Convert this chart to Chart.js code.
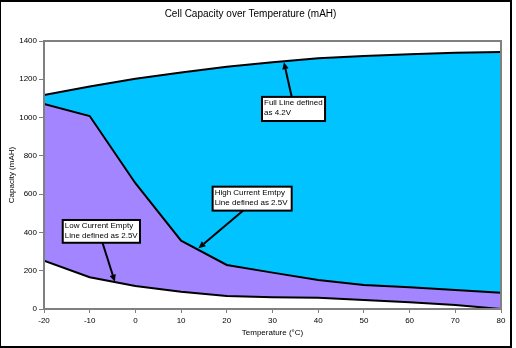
<!DOCTYPE html>
<html>
<head>
<meta charset="utf-8">
<script src="https://cdn.jsdelivr.net/npm/chart.js@4/dist/chart.umd.min.js"></script>
<style>
  html, body { margin: 0; padding: 0; background: #fff; }
  #wrap { position: relative; width: 516px; height: 348px; }
  #frame { position: absolute; left: 0; top: 0; width: 512px; height: 348px; box-sizing: border-box;
           border: 2px solid #000; border-left-width: 1px; pointer-events: none; }
  canvas { display: block; }
</style>
</head>
<body>
<div id="wrap">
  <canvas id="c" width="516" height="348"></canvas>
  <div id="frame"></div>
</div>
<script>
// ---- data ----
const temperatures = [-20, -10, 0, 10, 20, 30, 40, 50, 60, 70, 80];
const fullLine     = [1118, 1162, 1203, 1236, 1266, 1289, 1310, 1322, 1331, 1338, 1343];
const highCurrent  = [1071, 1008, 657, 357, 230, 190, 152, 125, 113, 99, 85];
const lowCurrent   = [252, 166, 120, 90, 68, 61, 59, 47, 35, 21, 0];
const yTicks = [0, 200, 400, 600, 800, 1000, 1200, 1400];
const xTicks = [-20, -10, 0, 10, 20, 30, 40, 50, 60, 70, 80];

// callouts, in data units (temperature, mAH)
const callouts = [
  { lines: ['Full Line defined', 'as 4.2V'],
    box: [27.7, 1108, 41.5, 982], from: [34.2, 1109], to: [32.5, 1289] },
  { lines: ['High Current Emtpy', 'Line defined as 2.5V'],
    box: [16.9, 639, 34.2, 514], from: [23.6, 514], to: [13.8, 317] },
  { lines: ['Low Current Empty', 'Line defined as 2.5V'],
    box: [-15.9, 465, 1.0, 346], from: [-7.2, 346], to: [-4.5, 143] }
];

const FONT = "'Liberation Sans', Arial, sans-serif";
const pts = arr => temperatures.map((t, i) => ({ x: t, y: arr[i] }));

const framePlugin = {
  id: 'frameAndCallouts',
  afterDatasetsDraw(chart) {
    const { ctx, chartArea: a, scales: { x, y } } = chart;
    ctx.save();
    ctx.strokeStyle = '#808080';
    ctx.lineWidth = 2;
    ctx.strokeRect(a.left, a.top, a.right - a.left, a.bottom - a.top);
    ctx.restore();

    ctx.save();
    ctx.font = '8px ' + FONT;
    ctx.textBaseline = 'middle';
    ctx.textAlign = 'left';
    callouts.forEach(c => {
      const x1 = x.getPixelForValue(c.box[0]), y1 = y.getPixelForValue(c.box[1]);
      const x2 = x.getPixelForValue(c.box[2]), y2 = y.getPixelForValue(c.box[3]);
      const fx = x.getPixelForValue(c.from[0]), fy = y.getPixelForValue(c.from[1]);
      const tx = x.getPixelForValue(c.to[0]), ty = y.getPixelForValue(c.to[1]);
      const ang = Math.atan2(ty - fy, tx - fx);
      const hl = 7, hw = 3.2;
      const bx = tx - hl * Math.cos(ang), by = ty - hl * Math.sin(ang);
      ctx.strokeStyle = '#000';
      ctx.lineWidth = 2;
      ctx.beginPath(); ctx.moveTo(fx, fy); ctx.lineTo(bx, by); ctx.stroke();
      ctx.fillStyle = '#000';
      ctx.beginPath();
      ctx.moveTo(tx, ty);
      ctx.lineTo(bx + hw * Math.sin(ang), by - hw * Math.cos(ang));
      ctx.lineTo(bx - hw * Math.sin(ang), by + hw * Math.cos(ang));
      ctx.closePath(); ctx.fill();
      ctx.fillStyle = '#fff';
      ctx.fillRect(x1, y1, x2 - x1, y2 - y1);
      ctx.lineWidth = 2;
      ctx.strokeRect(x1, y1, x2 - x1, y2 - y1);
      ctx.fillStyle = '#000';
      c.lines.forEach((l, i) => ctx.fillText(l, x1 + 2, y1 + 6 + i * 10));
    });
    ctx.restore();
  }
};

new Chart(document.getElementById('c'), {
  type: 'line',
  data: {
    datasets: [
      { label: 'Full Line', data: pts(fullLine), borderColor: '#000', borderWidth: 2,
        backgroundColor: '#00C3FF', fill: '+1', pointRadius: 0, tension: 0 },
      { label: 'High Current Empty', data: pts(highCurrent), borderColor: '#000', borderWidth: 2,
        backgroundColor: '#A385FF', fill: '+1', pointRadius: 0, tension: 0 },
      { label: 'Low Current Empty', data: pts(lowCurrent), borderColor: '#000', borderWidth: 2,
        fill: false, pointRadius: 0, tension: 0 }
    ]
  },
  options: {
    responsive: false,
    animation: false,
    events: [],
    layout: { padding: { left: 0, right: 15, top: 0, bottom: 0 } },
    plugins: {
      filler: { drawTime: 'beforeDatasetsDraw' },
      legend: { display: false },
      tooltip: { enabled: false },
      title: { display: true, text: 'Cell Capacity over Temperature (mAH)', color: '#000',
               font: { family: FONT, size: 10, weight: 'normal', lineHeight: 1.2 },
               padding: { top: 8, bottom: 21 } }
    },
    scales: {
      x: {
        type: 'linear', min: -20, max: 80,
        afterBuildTicks: s => { s.ticks = xTicks.map(v => ({ value: v })); },
        afterFit: s => { s.height = 39; },
        grid: { drawOnChartArea: false, drawTicks: true, tickLength: 4, color: '#808080' },
        border: { display: true, color: '#808080', width: 2 },
        ticks: { color: '#000', font: { family: FONT, size: 8 }, padding: 3, maxRotation: 0,
                 callback: v => String(v) },
        title: { display: true, text: 'Temperature (°C)', color: '#000',
                 font: { family: FONT, size: 8, lineHeight: 1.2 }, padding: { top: 0, bottom: 10 } }
      },
      y: {
        type: 'linear', min: 0, max: 1400,
        afterBuildTicks: s => { s.ticks = yTicks.map(v => ({ value: v })); },
        afterFit: s => { s.width = 44; },
        grid: { drawOnChartArea: false, drawTicks: true, tickLength: 5, color: '#808080' },
        border: { display: true, color: '#808080', width: 2 },
        ticks: { color: '#000', font: { family: FONT, size: 8 }, padding: 2,
                 callback: v => String(v) },
        title: { display: true, text: 'Capacity (mAH)', color: '#000',
                 font: { family: FONT, size: 8, lineHeight: 1.2 }, padding: { top: 7, bottom: 0 } }
      }
    }
  },
  plugins: [framePlugin]
});
</script>
</body>
</html>
